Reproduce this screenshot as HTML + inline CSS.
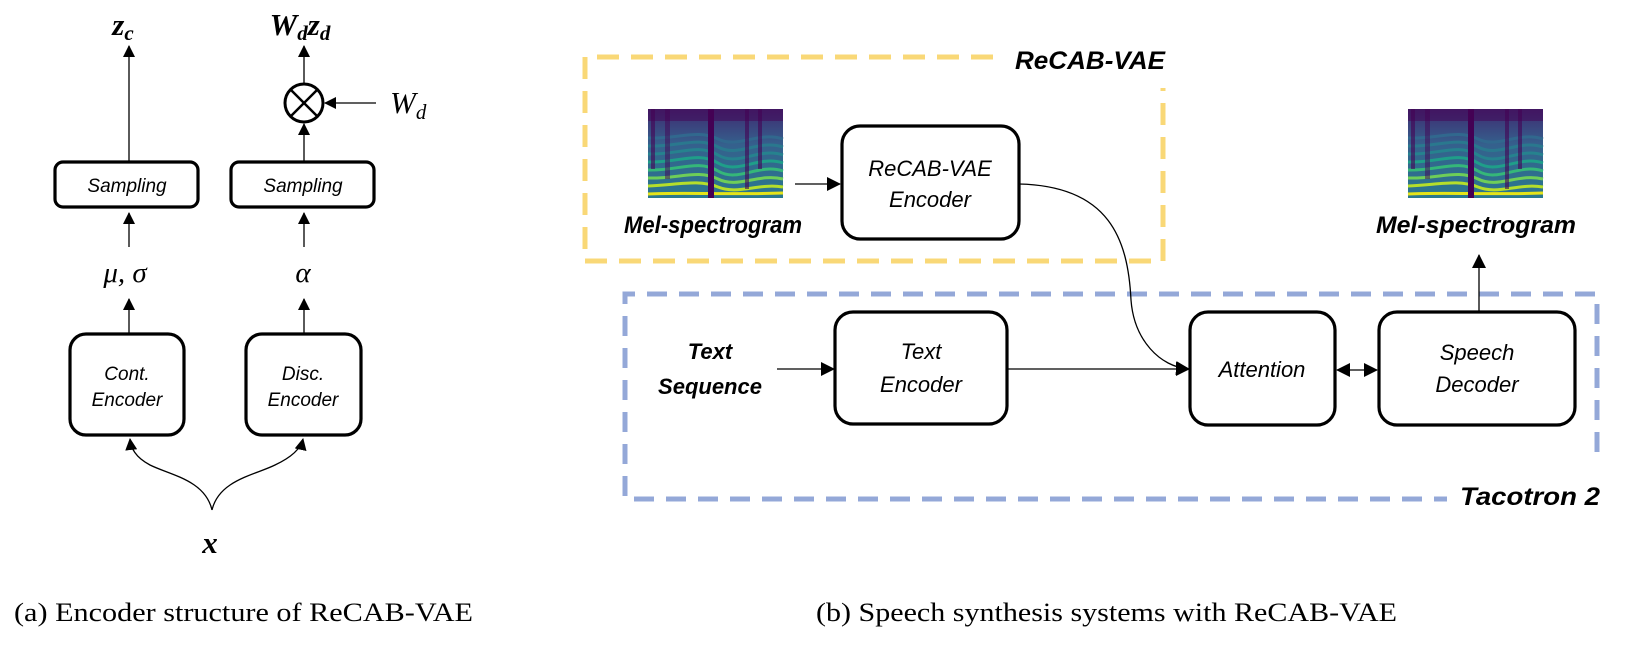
<!DOCTYPE html>
<html><head><meta charset="utf-8"><style>
html,body{margin:0;padding:0;background:#fff;}
svg{display:block;}
.box{fill:#fff;stroke:#000;stroke-width:3.2;}
.ln{stroke:#000;stroke-width:1.3;fill:none;}
.lbl{font-family:"Liberation Sans",sans-serif;font-style:italic;fill:#000;text-anchor:middle;}
.bl{font-family:"Liberation Sans",sans-serif;font-style:italic;font-weight:bold;fill:#000;text-anchor:middle;}
.m{font-family:"Liberation Serif",serif;font-style:italic;font-weight:bold;fill:#000;text-anchor:middle;}
.cap{font-family:"Liberation Serif",serif;fill:#000;font-size:26px;}
</style></head><body>
<svg width="1632" height="648" viewBox="0 0 1632 648" xmlns="http://www.w3.org/2000/svg">
<defs>
<marker id="ar" markerWidth="12" markerHeight="12" refX="11" refY="6" orient="auto" markerUnits="userSpaceOnUse">
<path d="M0,0 L12,6 L0,12 z" fill="#000"/></marker>
<marker id="ar2" markerWidth="14" markerHeight="14" refX="13" refY="7" orient="auto" markerUnits="userSpaceOnUse">
<path d="M0,0 L14,7 L0,14 z" fill="#000"/></marker>
<marker id="ars" markerWidth="14" markerHeight="14" refX="1" refY="7" orient="auto" markerUnits="userSpaceOnUse">
<path d="M14,0 L0,7 L14,14 z" fill="#000"/></marker>
<linearGradient id="sg" x1="0" y1="0" x2="0" y2="1">
<stop offset="0" stop-color="#3f2a70"/><stop offset="0.4" stop-color="#35608d"/><stop offset="1" stop-color="#2a788e"/></linearGradient>
<g id="spec">
<rect x="0" y="0" width="135" height="89" fill="url(#sg)"/>
<g fill="none" stroke-width="3">
<path d="M0,85 C40,83 80,86 135,84" stroke="#e5e419"/>
<path d="M0,77 C30,76 50,70 70,78 S110,74 135,78" stroke="#b5de2b"/>
<path d="M0,69 C30,70 50,60 70,70 S110,64 135,70" stroke="#6ece58"/>
<path d="M0,61 C30,62 50,50 70,62 S110,54 135,62" stroke="#35b779"/>
<path d="M0,53 C30,54 50,42 70,54 S110,46 135,54" stroke="#1f9e89"/>
<path d="M0,45 C30,46 50,34 70,46 S110,38 135,46" stroke="#26828e"/>
<path d="M0,37 C30,38 50,27 70,38 S110,30 135,38" stroke="#2a788e"/>
<path d="M0,29 C30,30 50,20 70,30 S110,22 135,30" stroke="#31688e"/>
</g>
<rect x="3" y="0" width="4" height="60" fill="#440154" opacity="0.6"/>
<rect x="17" y="0" width="5" height="70" fill="#440154" opacity="0.5"/>
<rect x="60" y="0" width="6" height="89" fill="#440154"/>
<rect x="97" y="0" width="4" height="80" fill="#440154" opacity="0.6"/>
<rect x="110" y="0" width="4" height="60" fill="#440154" opacity="0.6"/>
<rect x="0" y="0" width="135" height="12" fill="#440154" opacity="0.5"/>
</g>
</defs>

<!-- Left panel -->
<text class="m" x="123" y="35" font-size="31">z<tspan font-size="21" dy="5">c</tspan></text>
<text class="m" x="300" y="35" font-size="31">W<tspan font-size="21" dy="5">d</tspan><tspan dy="-5">z</tspan><tspan font-size="21" dy="5">d</tspan></text>

<line class="ln" x1="129" y1="162" x2="129" y2="46" marker-end="url(#ar)"/>
<line class="ln" x1="304" y1="162" x2="304" y2="124" marker-end="url(#ar)"/>
<line class="ln" x1="304" y1="84" x2="304" y2="46" marker-end="url(#ar)"/>
<circle cx="304" cy="103" r="19" fill="#fff" stroke="#000" stroke-width="3"/>
<line x1="290.5" y1="89.5" x2="317.5" y2="116.5" stroke="#000" stroke-width="2.5"/>
<line x1="317.5" y1="89.5" x2="290.5" y2="116.5" stroke="#000" stroke-width="2.5"/>
<line class="ln" x1="376" y1="103" x2="325" y2="103" marker-end="url(#ar)"/>
<text x="390" y="113" font-family="Liberation Serif,serif" font-style="italic" font-size="31">W<tspan font-size="21" dy="6">d</tspan></text>

<rect class="box" x="55" y="162" width="143" height="45" rx="8"/>
<rect class="box" x="231" y="162" width="143" height="45" rx="8"/>
<text class="lbl" x="127" y="192" font-size="19">Sampling</text>
<text class="lbl" x="303" y="192" font-size="19">Sampling</text>

<line class="ln" x1="129" y1="247" x2="129" y2="213" marker-end="url(#ar)"/>
<line class="ln" x1="304" y1="247" x2="304" y2="213" marker-end="url(#ar)"/>
<text x="125" y="282" font-family="Liberation Serif,serif" font-style="italic" font-size="29" text-anchor="middle">μ, σ</text>
<text x="303" y="282" font-family="Liberation Serif,serif" font-style="italic" font-size="29" text-anchor="middle">α</text>
<line class="ln" x1="129" y1="333" x2="129" y2="299" marker-end="url(#ar)"/>
<line class="ln" x1="304" y1="333" x2="304" y2="299" marker-end="url(#ar)"/>

<rect class="box" x="70" y="334" width="114" height="101" rx="16"/>
<rect class="box" x="246" y="334" width="115" height="101" rx="16"/>
<text class="lbl" x="127" y="380" font-size="19">Cont.</text>
<text class="lbl" x="127" y="406" font-size="19">Encoder</text>
<text class="lbl" x="303" y="380" font-size="19">Disc.</text>
<text class="lbl" x="303" y="406" font-size="19">Encoder</text>

<path class="ln" d="M212,510 C205,480 170,475 150,465 C135,457 131,448 130,439" marker-end="url(#ar)"/>
<path class="ln" d="M212,510 C219,480 255,475 275,465 C292,457 301,448 303,439" marker-end="url(#ar)"/>
<text x="210" y="553" font-family="Liberation Serif,serif" font-style="italic" font-weight="bold" font-size="31" text-anchor="middle">x</text>

<text class="cap" x="14" y="621" textLength="459" lengthAdjust="spacingAndGlyphs">(a) Encoder structure of ReCAB-VAE</text>
<text class="cap" x="816" y="621" textLength="581" lengthAdjust="spacingAndGlyphs">(b) Speech synthesis systems with ReCAB-VAE</text>

<!-- Right panel: dashed groups -->
<path d="M993,57 L585,57 L585,261 L1163,261 L1163,88" fill="none" stroke="#f9d877" stroke-width="5" stroke-dasharray="22,12"/>
<text class="bl" x="1090" y="69" font-size="25" textLength="150" lengthAdjust="spacingAndGlyphs">ReCAB-VAE</text>

<path d="M1597,452 L1597,294 L625,294 L625,499 L1447,499" fill="none" stroke="#94a8d8" stroke-width="5" stroke-dasharray="20,12"/>
<text class="bl" x="1530" y="505" font-size="25" textLength="140" lengthAdjust="spacingAndGlyphs">Tacotron 2</text>

<use href="#spec" x="648" y="109"/>
<use href="#spec" x="1408" y="109"/>
<text class="bl" x="713" y="233" font-size="24" textLength="178" lengthAdjust="spacingAndGlyphs">Mel-spectrogram</text>
<text class="bl" x="1476" y="233" font-size="24" textLength="200" lengthAdjust="spacingAndGlyphs">Mel-spectrogram</text>

<line class="ln" x1="795" y1="184" x2="840" y2="184" marker-end="url(#ar2)"/>
<rect class="box" x="842" y="126" width="177" height="113" rx="18"/>
<text class="lbl" x="930" y="176" font-size="22">ReCAB-VAE</text>
<text class="lbl" x="930" y="207" font-size="22">Encoder</text>

<text class="bl" x="710" y="359" font-size="22">Text</text>
<text class="bl" x="710" y="394" font-size="22">Sequence</text>
<line class="ln" x1="777" y1="369" x2="834" y2="369" marker-end="url(#ar2)"/>
<rect class="box" x="835" y="312" width="172" height="112" rx="18"/>
<text class="lbl" x="921" y="359" font-size="22">Text</text>
<text class="lbl" x="921" y="392" font-size="22">Encoder</text>

<line class="ln" x1="1007" y1="369" x2="1189" y2="369" marker-end="url(#ar2)"/>
<path class="ln" d="M1019,184 C1110,186 1128,240 1131,300 C1134,340 1160,367 1189,369" marker-end="url(#ar2)"/>
<rect class="box" x="1190" y="312" width="145" height="113" rx="18"/>
<text class="lbl" x="1262" y="377" font-size="22">Attention</text>

<line class="ln" x1="1337" y1="370" x2="1377" y2="370" marker-start="url(#ars)" marker-end="url(#ar2)"/>
<rect class="box" x="1379" y="312" width="196" height="113" rx="18"/>
<text class="lbl" x="1477" y="360" font-size="22">Speech</text>
<text class="lbl" x="1477" y="392" font-size="22">Decoder</text>
<line class="ln" x1="1479" y1="312" x2="1479" y2="255" marker-end="url(#ar2)"/>
</svg>
</body></html>
